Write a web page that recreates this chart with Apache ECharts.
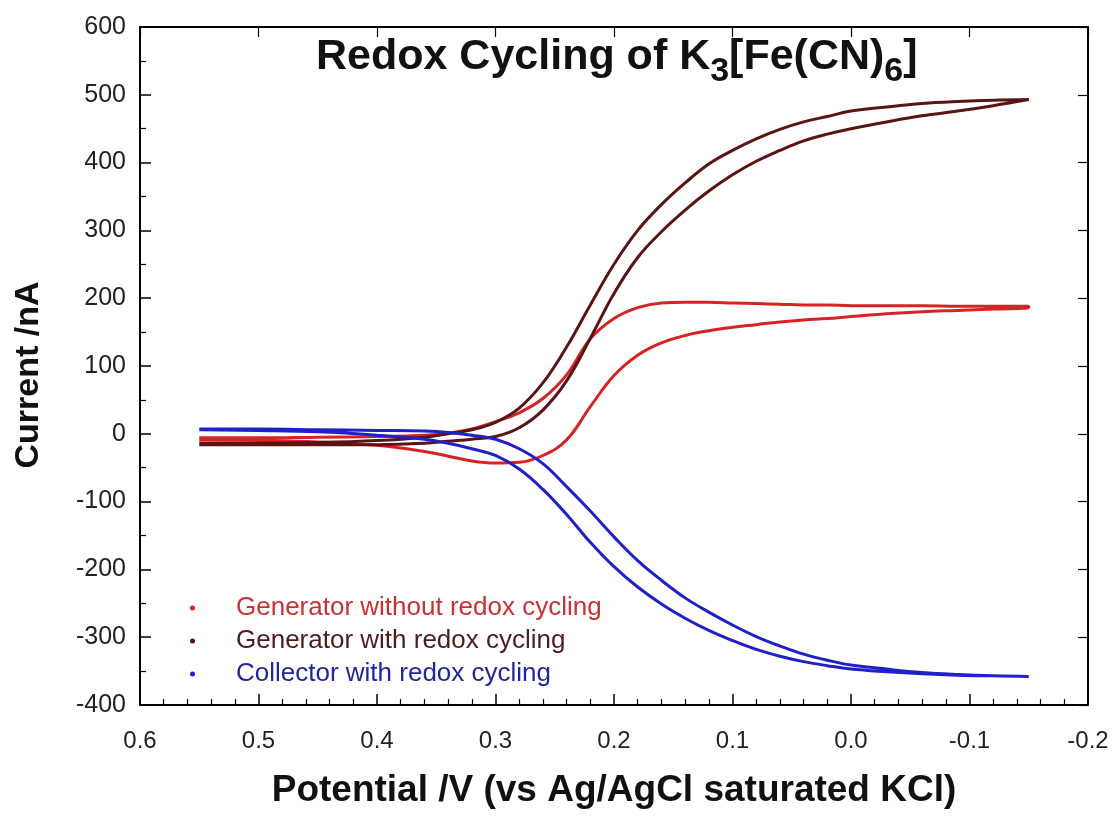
<!DOCTYPE html>
<html>
<head>
    <meta charset="UTF-8">
    <title>Redox Cycling</title>
    <script src="https://cdn.jsdelivr.net/npm/echarts@6/dist/echarts.min.js"></script>
    <style>
        * { margin: 0; padding: 0; }
        body { background: #fff; }
        #chart { width: 1115px; height: 818px; }
    </style>
</head>
<body>
<div id="chart"></div>
<script>
    // potential grid (V), same points for every branch
    var potential = [0.55, 0.50, 0.45, 0.40, 0.36, 0.34, 0.32, 0.30, 0.28, 0.26, 0.24, 0.22, 0.20, 0.18,
        0.16, 0.14, 0.12, 0.10, 0.08, 0.06, 0.04, 0.02, 0.00, -0.03, -0.06, -0.09, -0.12, -0.15];

    // Generator without redox cycling (nA)
    var genNoFwd = [-6, -6, -5, -4, -2, 1, 7, 18, 31, 52, 87, 140, 170, 186,
        193, 194, 194, 193, 192, 191, 190, 190, 189, 189, 189, 188, 188, 188];
    var genNoRev = [-9, -10, -12, -17, -26, -33, -40, -43, -42, -32, -9, 40, 86, 116,
        134, 145, 152, 157, 161, 165, 168, 170, 173, 177, 180, 182, 184, 186];

    // Generator with redox cycling (nA)
    var genFwd = [-14, -14, -13, -10, -5, 0, 6, 17, 38, 75, 128, 190, 250, 300,
        338, 370, 398, 418, 435, 449, 460, 468, 476, 482, 487, 490, 492, 493];
    var genRev = [-16, -16, -16, -16, -14, -11, -8, -4, 9, 35, 78, 141, 207, 260,
        298, 330, 358, 382, 402, 418, 432, 442, 450, 460, 469, 476, 484, 492];

    // Collector with redox cycling (nA)
    var colFwd = [7, 7, 6, 5, 4, 2, -2, -8, -22, -44, -78, -114, -152, -187,
        -216, -242, -263, -282, -299, -313, -325, -334, -341, -347, -352, -355, -357, -358];
    var colRev = [6, 5, 3, -2, -8, -14, -22, -32, -52, -82, -119, -160, -196, -226,
        -251, -272, -290, -305, -318, -328, -336, -342, -347, -351, -354, -356, -357, -358];

    var names = ['Generator without redox cycling', 'Generator with redox cycling', 'Collector with redox cycling'];
    var colors = ['#d62424', '#5a1414', '#2020c8'];
    var textColors = ['#c83232', '#4e1c1c', '#24249c'];

    function loop(fwd, rev) {   // forward scan then back
        var pts = [];
        var i;
        for (i = 0; i < potential.length; i++) pts.push([potential[i], fwd[i]]);
        for (i = potential.length - 1; i >= 0; i--) pts.push([potential[i], rev[i]]);
        return pts;
    }

    var loops = [loop(genNoFwd, genNoRev), loop(genFwd, genRev), loop(colFwd, colRev)];

    var font = 'Liberation Sans, Arial, sans-serif';

    var myChart = echarts.init(document.getElementById('chart'));

    var option = {
        animation: false,
        textStyle: { fontFamily: font },
        title: {
            text: '{a|Redox Cycling of K}{s|3}{a|[Fe(CN)}{s|6}{a|]}',
            left: 311,
            top: 31,
            textStyle: {
                rich: {
                    a: { fontSize: 43, fontWeight: 'bold', color: '#111', fontFamily: font, lineHeight: 46, verticalAlign: 'top' },
                    s: { fontSize: 34, fontWeight: 'bold', color: '#111', fontFamily: font, lineHeight: 53, verticalAlign: 'bottom' }
                }
            }
        },
        legend: {
            orient: 'vertical',
            left: 185,
            top: 590,
            icon: 'circle',
            itemWidth: 5,
            itemHeight: 5,
            itemGap: 7,
            textStyle: { fontSize: 26, fontFamily: font, padding: [0, 0, 0, 36] },
            data: names.map(function (n, i) {
                return { name: n, textStyle: { color: textColors[i] } };
            })
        },
        grid: { left: 140, right: 27, top: 27, bottom: 113 },
        xAxis: [{
            type: 'value',
            min: -0.2,
            max: 0.6,
            interval: 0.1,
            inverse: true,
            position: 'bottom',
            name: 'Potential /V (vs Ag/AgCl saturated KCl)',
            nameLocation: 'middle',
            nameGap: 67,
            nameTextStyle: { fontSize: 37, fontWeight: 'bold', color: '#111', fontFamily: font },
            axisLine: { onZero: false, lineStyle: { color: '#000', width: 2 } },
            axisTick: { inside: true, length: 11, lineStyle: { color: '#000', width: 1.5 } },
            minorTick: { show: true, splitNumber: 5, length: 6, lineStyle: { color: '#000', width: 1.2 } },
            splitLine: { show: false },
            axisLabel: {
                fontSize: 24, color: '#222', margin: 24,
                formatter: function (v) { return Math.abs(v) < 1e-9 ? '0.0' : v.toFixed(1); }
            }
        }, {
            type: 'value',
            min: -0.2,
            max: 0.6,
            interval: 0.1,
            inverse: true,
            position: 'top',
            axisLine: { onZero: false, lineStyle: { color: '#000', width: 2 } },
            axisTick: { inside: true, length: 10, lineStyle: { color: '#000', width: 1.2 } },
            axisLabel: { show: false },
            splitLine: { show: false }
        }],
        yAxis: [{
            type: 'value',
            min: -400,
            max: 600,
            interval: 100,
            name: 'Current /nA',
            nameLocation: 'middle',
            nameGap: 94,
            nameRotate: 90,
            nameTextStyle: { fontSize: 34, fontWeight: 'bold', color: '#111', fontFamily: font, padding: [0, 18, 0, 0] },
            axisLine: { show: true, onZero: false, lineStyle: { color: '#000', width: 2 } },
            axisTick: { inside: true, length: 11, lineStyle: { color: '#000', width: 1.5 } },
            minorTick: { show: true, splitNumber: 2, length: 6, lineStyle: { color: '#000', width: 1.2 } },
            splitLine: { show: false },
            axisLabel: { fontSize: 25, color: '#222', margin: 14 }
        }, {
            type: 'value',
            min: -400,
            max: 600,
            interval: 100,
            position: 'right',
            axisLine: { show: true, onZero: false, lineStyle: { color: '#000', width: 2 } },
            axisTick: { inside: true, length: 10, lineStyle: { color: '#000', width: 1.2 } },
            axisLabel: { show: false },
            splitLine: { show: false }
        }],
        series: loops.map(function (pts, i) {
            return {
                name: names[i],
                type: 'line',
                xAxisIndex: 0,
                yAxisIndex: 0,
                data: pts,
                smooth: 0.4,
                showSymbol: false,
                itemStyle: { color: colors[i] },
                lineStyle: { color: colors[i], width: 3 }
            };
        })
    };

    myChart.setOption(option);
</script>
</body>
</html>
